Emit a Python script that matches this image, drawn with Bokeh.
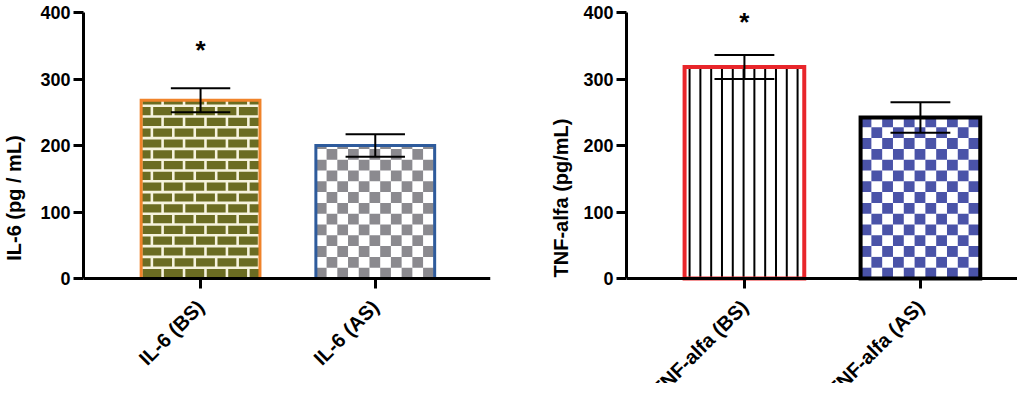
import math
from bokeh.plotting import figure
from bokeh.layouts import row
from bokeh.models import FixedTicker, Range1d
from bokeh.core.properties import value
from bokeh.embed import file_html
from bokeh.resources import INLINE

# ---------------- data ----------------
il6_labels = ["IL-6 (BS)", "IL-6 (AS)"]
il6_mean = [268, 200]
il6_err = [18, 17]

tnf_labels = ["TNF-alfa (BS)", "TNF-alfa (AS)"]
tnf_mean = [318, 242]
tnf_err = [18, 23]

sig_label = "*"
il6_sig_y = 344
tnf_sig_y = 385

y_ticks = [0, 100, 200, 300, 400]

# ---------------- style ----------------
FONT = "Liberation Sans"
BAR_W = 0.68
PX_X = 176.0          # screen px per x unit
PX_Y = 266.0 / 400.0  # screen px per y unit
CAP_HALF = 0.17
FIG_H = 383
TOP_B = 12
Y_MIN = 400 - (FIG_H - TOP_B) / PX_Y   # frame continues below the x axis


def make_fig(width, left_b, right_b, x_end, ylabel, standoff, cats):
    p = figure(width=width, height=FIG_H,
               x_range=Range1d(0.33, x_end), y_range=Range1d(Y_MIN, 400),
               output_backend="svg", toolbar_location=None,
               min_border_left=left_b, min_border_right=right_b,
               min_border_top=TOP_B, min_border_bottom=0)
    p.outline_line_color = None
    p.xgrid.visible = False
    p.ygrid.visible = False
    p.background_fill_color = "white"
    for ax in (p.xaxis[0], p.yaxis[0]):
        ax.axis_line_width = 3
        ax.axis_line_color = "black"
        ax.major_tick_line_width = 3
        ax.major_tick_line_color = "black"
        ax.major_tick_in = 0
        ax.major_tick_out = 10
        ax.minor_tick_line_color = None
        ax.major_label_text_font = FONT
        ax.major_label_text_font_style = "bold"
        ax.major_label_text_color = "black"
    p.yaxis.ticker = FixedTicker(ticks=y_ticks)
    p.yaxis.bounds = (0, 400)
    p.yaxis.major_label_text_font_size = "18px"
    p.yaxis.major_label_standoff = 3
    p.yaxis.axis_label = ylabel
    p.yaxis.axis_label_text_font = FONT
    p.yaxis.axis_label_text_font_style = "bold"
    p.yaxis.axis_label_text_font_size = "20px"
    p.yaxis.axis_label_text_color = "black"
    p.yaxis.axis_label_standoff = standoff
    p.xaxis.fixed_location = 0
    p.xaxis.ticker = FixedTicker(ticks=[1, 2])
    p.xaxis.major_label_overrides = {1: cats[0], 2: cats[1]}
    p.xaxis.major_label_text_font_size = "20px"
    p.xaxis.major_label_orientation = math.pi / 4
    p.xaxis.major_label_standoff = 15
    return p


def bar_bounds(xc, top):
    return xc - BAR_W / 2, xc + BAR_W / 2, 0, top


def checker(p, xc, top, color, cell_px=10.8):
    l, r, b, t = bar_bounds(xc, top)
    p.quad(left=[l], right=[r], bottom=[b], top=[t], fill_color="white", line_color=None)
    cw, ch = cell_px / PX_X, cell_px / PX_Y
    nx, ny = math.ceil((r - l) / cw), math.ceil((t - b) / ch)
    L, R, B, T = [], [], [], []
    for i in range(nx):
        for j in range(ny):
            if (i + j) % 2 == 1:
                continue
            x0, x1 = l + i * cw, min(l + (i + 1) * cw, r)
            y0, y1 = b + j * ch, min(b + (j + 1) * ch, t)
            L.append(x0); R.append(x1); B.append(y0); T.append(y1)
    p.quad(left=L, right=R, bottom=B, top=T, fill_color=color, line_color=None)


def bricks(p, xc, top, brick_c, mortar_c):
    l, r, b, t = bar_bounds(xc, top)
    p.quad(left=[l], right=[r], bottom=[b], top=[t], fill_color=mortar_c, line_color=None)
    row_px, brick_px, gap_px = 10.8, 21.6, 2.6
    rh, bw = row_px / PX_Y, brick_px / PX_X
    gx, gy = gap_px / PX_X, gap_px / PX_Y
    ny = math.ceil((t - b) / rh)
    L, R, B, T = [], [], [], []
    for j in range(ny):
        y0 = b + j * rh + gy / 2
        y1 = min(b + (j + 1) * rh - gy / 2, t)
        if y1 <= y0:
            continue
        off = 0 if j % 2 == 0 else bw / 2
        x = l - off
        while x < r:
            x0 = max(x + gx / 2, l)
            x1 = min(x + bw - gx / 2, r)
            if x1 > x0:
                L.append(x0); R.append(x1); B.append(y0); T.append(y1)
            x += bw
    p.quad(left=L, right=R, bottom=B, top=T, fill_color=brick_c, line_color=None)


def vlines(p, xc, top, pitch_px=10.8, first_px=5.0):
    l, r, b, t = bar_bounds(xc, top)
    p.quad(left=[l], right=[r], bottom=[b], top=[t], fill_color="white", line_color=None)
    xs_ = []
    x = l + first_px / PX_X
    while x < r:
        xs_.append(x)
        x += pitch_px / PX_X
    p.segment(x0=xs_, x1=xs_, y0=[b] * len(xs_), y1=[t] * len(xs_), line_color="black", line_width=2)


def outline(p, xc, top, color, w):
    p.vbar(x=[xc], top=[top], bottom=0, width=BAR_W, fill_color=None,
           line_color=color, line_width=w, line_join="miter")


def errbars(p, xs_, means, errs):
    up = [m + e for m, e in zip(means, errs)]
    lo = [m - e for m, e in zip(means, errs)]
    p.segment(x0=xs_, x1=xs_, y0=lo, y1=up, line_color="black", line_width=2)
    cl = [x - CAP_HALF for x in xs_]
    cr = [x + CAP_HALF for x in xs_]
    p.segment(x0=cl, x1=cr, y0=up, y1=up, line_color="black", line_width=2)
    p.segment(x0=cl, x1=cr, y0=lo, y1=lo, line_color="black", line_width=2)


xs = [1, 2]

# ---------- IL-6 ----------
p1 = make_fig(512, 80, 22, 0.33 + 410 / PX_X, "IL-6 (pg / mL)", 12, il6_labels)
bricks(p1, xs[0], il6_mean[0], "#6b6c22", "#f6f3de")
checker(p1, xs[1], il6_mean[1], "#8b8a8f")
outline(p1, xs[0], il6_mean[0], "#f0832a", 3)
outline(p1, xs[1], il6_mean[1], "#2e5b9c", 3)
errbars(p1, xs, il6_mean, il6_err)
p1.text(x=[1], y=[il6_sig_y], text=[sig_label], text_align="center", text_baseline="middle",
        text_font=value(FONT), text_font_style="bold", text_font_size="26px", text_color="black")

# ---------- TNF-alfa ----------
p2 = make_fig(505, 114, 0, 0.33 + 391 / PX_X, "TNF-alfa (pg/mL)", 8, tnf_labels)
vlines(p2, xs[0], tnf_mean[0])
checker(p2, xs[1], tnf_mean[1], "#4a53a8")
outline(p2, xs[0], tnf_mean[0], "#e8262b", 4)
outline(p2, xs[1], tnf_mean[1], "black", 4)
errbars(p2, xs, tnf_mean, tnf_err)
p2.text(x=[1], y=[tnf_sig_y], text=[sig_label], text_align="center", text_baseline="middle",
        text_font=value(FONT), text_font_style="bold", text_font_size="26px", text_color="black")

layout = row(p1, p2)
open("out.html", "w").write(file_html(layout, INLINE))
